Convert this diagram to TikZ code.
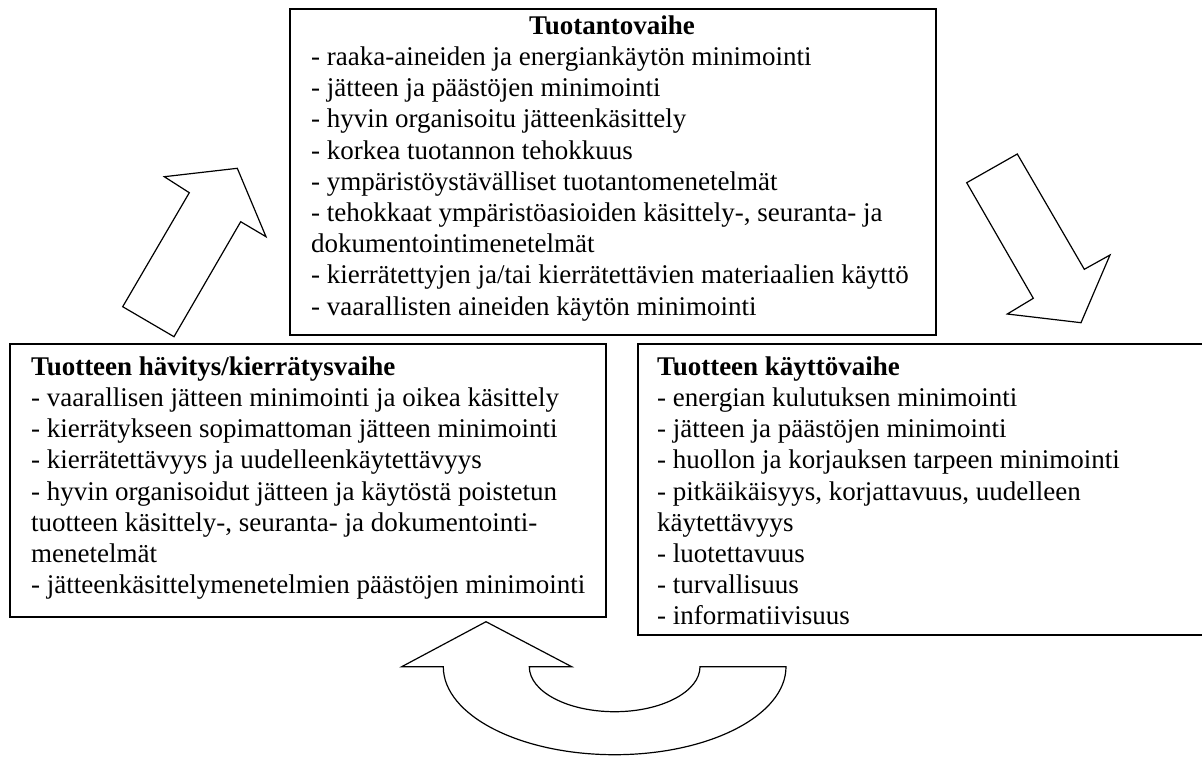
\documentclass[tikz,border=0pt]{standalone}
\usepackage{fontspec}
\setmainfont{Liberation Serif}
\begin{document}
\begin{tikzpicture}[x=1pt,y=1pt,
  frame/.style={draw, line width=1.6pt},
  bigarrow/.style={draw, line width=1.2pt, line join=miter, fill=white},
  body/.style={anchor=north west, inner sep=0pt, align=left,
    font=\fontsize{27}{31.2}\selectfont},
  title/.style={anchor=base, inner sep=0pt,
    font=\fontsize{27}{31.2}\selectfont\bfseries}]
\useasboundingbox (0,0) rectangle (1202,-756);

% the three phase boxes
\node[frame, anchor=north west, minimum width=646pt, minimum height=326pt, inner sep=0pt] (prodbox) at (289,-8) {};
\node[frame, anchor=north west, minimum width=596pt, minimum height=273pt, inner sep=0pt] (endbox) at (9,-343) {};
\node[frame, anchor=north west, minimum width=580pt, minimum height=291pt, inner sep=0pt] (usebox) at (637,-343) {};

% production phase
\node[title] (prodtitle) at (612,-34) {Tuotantovaihe};
\node[body] (prodtext) at (311,-43.5) {\strut- raaka-aineiden ja energiankäytön minimointi\\
- jätteen ja päästöjen minimointi\\
- hyvin organisoitu jätteenkäsittely\\
- korkea tuotannon tehokkuus\\
- ympäristöystävälliset tuotantomenetelmät\\
- tehokkaat ympäristöasioiden käsittely-, seuranta- ja\\
dokumentointimenetelmät\\
- kierrätettyjen ja/tai kierrätettävien materiaalien käyttö\\
- vaarallisten aineiden käytön minimointi};

% disposal / recycling phase
\node[body] (endtext) at (31,-353.3) {\strut\textbf{Tuotteen hävitys/kierrätysvaihe}\\
- vaarallisen jätteen minimointi ja oikea käsittely\\
- kierrätykseen sopimattoman jätteen minimointi\\
- kierrätettävyys ja uudelleenkäytettävyys\\
- hyvin organisoidut jätteen ja käytöstä poistetun\\
tuotteen käsittely-, seuranta- ja dokumentointi-\\
menetelmät\\
- jätteenkäsittelymenetelmien päästöjen minimointi};

% use phase
\node[body] (usetext) at (657,-353.3) {\strut\textbf{Tuotteen käyttövaihe}\\
- energian kulutuksen minimointi\\
- jätteen ja päästöjen minimointi\\
- huollon ja korjauksen tarpeen minimointi\\
- pitkäikäisyys, korjattavuus, uudelleen\\
käytettävyys\\
- luotettavuus\\
- turvallisuus\\
- informatiivisuus};

% block arrows between the phases
\draw[bigarrow] (122.7,-306.7) -- (174,-336.7) -- (240.7,-221.7) -- (266,-236.7)
  -- (237.3,-168.3) -- (164.3,-176.7) -- (189.3,-192.7) -- cycle;
\draw[bigarrow] (966.7,-182.7) -- (1017.3,-154) -- (1084.3,-269.3) -- (1110,-255)
  -- (1081,-322.7) -- (1007.3,-314) -- (1033.3,-298.3) -- cycle;
\draw[bigarrow] (486,-621.7) -- (571.7,-666.7) -- (529.3,-666.7)
  arc[start angle=180, end angle=360, x radius=85.35, y radius=45]
  -- (786,-666.7)
  arc[start angle=0, end angle=-180, x radius=171.35, y radius=88]
  -- (401.7,-666.7) -- cycle;
\end{tikzpicture}
\end{document}
